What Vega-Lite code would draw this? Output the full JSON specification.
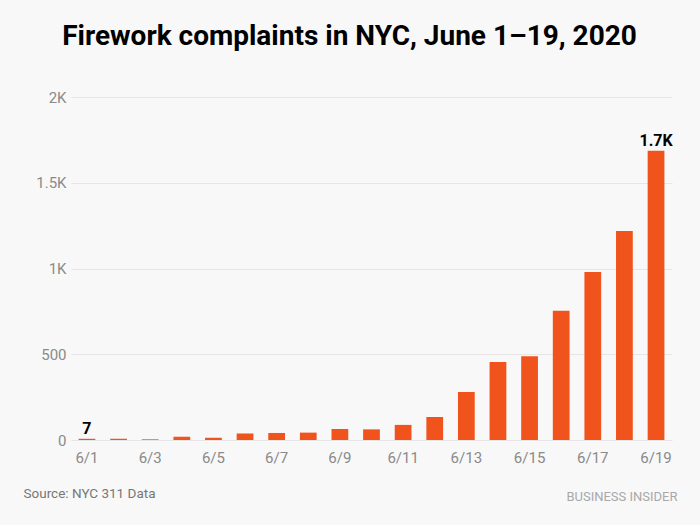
{
  "$schema": "https://vega.github.io/schema/vega-lite/v6.json",
  "autosize": {"type": "none"},
  "width": 601,
  "height": 343,
  "padding": {"left": 71, "top": 97, "right": 28, "bottom": 85},
  "background": "#f8f8f8",
  "title": {
    "text": "Firework complaints in NYC, June 1–19, 2020",
    "font": "Roboto",
    "fontSize": 28,
    "fontWeight": "bold",
    "color": "#000000",
    "anchor": "middle",
    "dx": -22,
    "offset": 39
  },
  "config": {
    "view": {"stroke": null},
    "font": "Roboto"
  },
  "data": {
    "values": [
      {"date": "6/1", "complaints": 7, "label": "7"},
      {"date": "6/2", "complaints": 8, "label": ""},
      {"date": "6/3", "complaints": 4, "label": ""},
      {"date": "6/4", "complaints": 19, "label": ""},
      {"date": "6/5", "complaints": 13, "label": ""},
      {"date": "6/6", "complaints": 38, "label": ""},
      {"date": "6/7", "complaints": 41, "label": ""},
      {"date": "6/8", "complaints": 43, "label": ""},
      {"date": "6/9", "complaints": 64, "label": ""},
      {"date": "6/10", "complaints": 62, "label": ""},
      {"date": "6/11", "complaints": 88, "label": ""},
      {"date": "6/12", "complaints": 134, "label": ""},
      {"date": "6/13", "complaints": 280, "label": ""},
      {"date": "6/14", "complaints": 455, "label": ""},
      {"date": "6/15", "complaints": 488, "label": ""},
      {"date": "6/16", "complaints": 753, "label": ""},
      {"date": "6/17", "complaints": 980, "label": ""},
      {"date": "6/18", "complaints": 1219, "label": ""},
      {"date": "6/19", "complaints": 1686, "label": "1.7K"}
    ]
  },
  "encoding": {
    "x": {
      "field": "date",
      "type": "ordinal",
      "sort": null,
      "scale": {"paddingInner": 0.47, "paddingOuter": 0.24},
      "axis": {
        "values": ["6/1", "6/3", "6/5", "6/7", "6/9", "6/11", "6/13", "6/15", "6/17", "6/19"],
        "labelAngle": 0,
        "labelColor": "#8a8a8a",
        "labelFontSize": 15,
        "labelPadding": 10,
        "ticks": false,
        "domain": false,
        "grid": false,
        "title": "BUSINESS INSIDER",
        "titleFontSize": 13,
        "titleFontWeight": "normal",
        "titleColor": "#a8a8a8",
        "titleAnchor": "end",
        "titleAlign": "right",
        "titleBaseline": "middle",
        "titleX": 606,
        "titleY": 56
      }
    },
    "y": {
      "field": "complaints",
      "type": "quantitative",
      "scale": {"domain": [0, 2000]},
      "axis": {
        "values": [0, 500, 1000, 1500, 2000],
        "labelExpr": "datum.value >= 1000 ? format(datum.value / 1000, '~g') + 'K' : datum.value",
        "labelColor": "#8a8a8a",
        "labelFontSize": 15,
        "labelPadding": 5,
        "ticks": false,
        "domain": false,
        "gridColor": "#e6e6e6",
        "title": "Source: NYC 311 Data",
        "titleAngle": 0,
        "titleFontSize": 13.5,
        "titleFontWeight": "normal",
        "titleColor": "#777777",
        "titleAlign": "left",
        "titleBaseline": "middle",
        "titleX": -48,
        "titleY": 396
      }
    }
  },
  "layer": [
    {"mark": {"type": "bar", "color": "#f0531c"}},
    {
      "mark": {"type": "text", "baseline": "bottom", "dy": -2, "fontSize": 16, "fontWeight": "bold", "color": "#000000"},
      "encoding": {"text": {"field": "label"}}
    }
  ]
}
